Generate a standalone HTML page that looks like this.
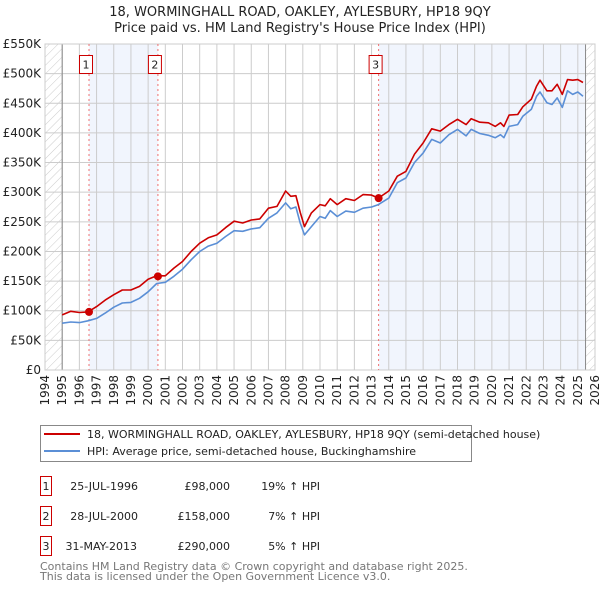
<!DOCTYPE html>
<html><head><meta charset="utf-8"><style>
body{margin:0;background:#fff;font-family:"DejaVu Sans","Liberation Sans",sans-serif;}
svg text{font-family:"DejaVu Sans","Liberation Sans",sans-serif;}
</style></head><body>
<svg id="c" width="600" height="590" viewBox="0 0 600 590" xmlns="http://www.w3.org/2000/svg">
<defs><pattern id="hatch" width="6" height="6" patternUnits="userSpaceOnUse" patternTransform="rotate(45)"><line x1="0" y1="0" x2="0" y2="6" stroke="#ccc" stroke-width="1"/></pattern></defs>
<text x="300" y="16" text-anchor="middle" font-size="13" fill="#222">18, WORMINGHALL ROAD, OAKLEY, AYLESBURY, HP18 9QY</text>
<text x="300" y="32" text-anchor="middle" font-size="13" fill="#222">Price paid vs. HM Land Registry's House Price Index (HPI)</text>
<g id="plot"></g>
<g>
<rect x="40.5" y="425.5" width="431" height="36" fill="#fff" stroke="#888"/>
<line x1="44" y1="434" x2="80" y2="434" stroke="#cc0000" stroke-width="2"/>
<text x="87" y="438" font-size="11" fill="#222">18, WORMINGHALL ROAD, OAKLEY, AYLESBURY, HP18 9QY (semi-detached house)</text>
<line x1="44" y1="451" x2="80" y2="451" stroke="#5b8fd6" stroke-width="2"/>
<text x="87" y="455" font-size="11" fill="#222">HPI: Average price, semi-detached house, Buckinghamshire</text>
</g>
<g font-size="11" fill="#222">
<rect x="40.5" y="476.5" width="11" height="19" fill="#fff" stroke="#cc0000"/><text x="46" y="490" text-anchor="middle">1</text>
<text x="138" y="490" text-anchor="end">25-JUL-1996</text><text x="230" y="490" text-anchor="end">£98,000</text><text x="320" y="490" text-anchor="end">19% ↑ HPI</text>
<rect x="40.5" y="506.5" width="11" height="19" fill="#fff" stroke="#cc0000"/><text x="46" y="520" text-anchor="middle">2</text>
<text x="138" y="520" text-anchor="end">28-JUL-2000</text><text x="230" y="520" text-anchor="end">£158,000</text><text x="320" y="520" text-anchor="end">7% ↑ HPI</text>
<rect x="40.5" y="536.5" width="11" height="19" fill="#fff" stroke="#cc0000"/><text x="46" y="550" text-anchor="middle">3</text>
<text x="137" y="550" text-anchor="end">31-MAY-2013</text><text x="230" y="550" text-anchor="end">£290,000</text><text x="320" y="550" text-anchor="end">5% ↑ HPI</text>
</g>
<text x="40" y="570" font-size="11" fill="#777">Contains HM Land Registry data © Crown copyright and database right 2025.</text>
<text x="40" y="580" font-size="11" fill="#777">This data is licensed under the Open Government Licence v3.0.</text>
</svg>
<script>
const dates=[1995,1995.5,1996,1996.5,1997,1997.5,1998,1998.5,1999,1999.5,2000,2000.5,2001,2001.5,2002,2002.5,2003,2003.5,2004,2004.5,2005,2005.5,2006,2006.5,2007,2007.5,2008,2008.3,2008.6,2008.85,2009.1,2009.5,2010,2010.3,2010.6,2011,2011.5,2012,2012.5,2013,2013.4,2014,2014.5,2015,2015.5,2016,2016.5,2017,2017.5,2018,2018.5,2018.8,2019.3,2019.8,2020.2,2020.5,2020.7,2021,2021.5,2021.8,2022.3,2022.6,2022.8,2023.2,2023.5,2023.8,2024.1,2024.4,2024.7,2025,2025.3];
const hpiValues=[79,81,80,83,87,96,106,113,114,121,132,146,148,158,170,186,200,209,214,225,235,234,238,240,256,265,282,272,275,248,228,242,259,256,269,259,268,266,273,275,279,290,316,324,350,366,389,383,397,406,395,406,399,396,392,397,392,411,414,428,440,462,469,451,448,459,443,471,465,469,462];
const propertyValues=[93,99,97,98,107,118,127,135,135,141,153,159,159,172,183,200,214,223,228,240,251,248,253,255,273,276,302,293,294,266,242,265,279,277,289,279,289,286,296,295,290,302,327,335,364,383,407,403,414,423,414,424,418,417,411,417,411,430,431,444,457,479,489,471,471,482,465,490,489,490,485];
const yTicks=[0,50,100,150,200,250,300,350,400,450,500,550];
const yTickLabels=["£0","£50K","£100K","£150K","£200K","£250K","£300K","£350K","£400K","£450K","£500K","£550K"];
const xYears=[1994,1995,1996,1997,1998,1999,2000,2001,2002,2003,2004,2005,2006,2007,2008,2009,2010,2011,2012,2013,2014,2015,2016,2017,2018,2019,2020,2021,2022,2023,2024,2025,2026];
const saleLabels=["1","2","3"];
const saleDates=[1996.56,2000.57,2013.41];
const salePrices=[98,158,290];
const dataStart=1995, dataEnd=2025.45;

const NS="http://www.w3.org/2000/svg";
const L=45,R=595,T=44,B=370;
const X=y=>L+(y-1994)*(R-L)/32;
const Y=v=>B-v*(B-T)/550;
const g=document.getElementById('plot');
function mk(tag,at,parent){const e=document.createElementNS(NS,tag);for(const k in at)e.setAttribute(k,at[k]);(parent||g).appendChild(e);return e;}
let e;
e=mk('rect',{x:L,y:T,width:X(dataStart)-L,height:B-T,fill:'url(#hatch)'});


e=mk('rect',{x:X(dataEnd),y:T,width:R-X(dataEnd),height:B-T,fill:'url(#hatch)'});


e=mk('rect',{x:X(saleDates[0]),y:T,width:X(saleDates[1])-X(saleDates[0]),height:B-T,fill:'#eef3fc',opacity:0.8});


e=mk('rect',{x:X(saleDates[2]),y:T,width:X(dataEnd)-X(saleDates[2]),height:B-T,fill:'#eef3fc',opacity:0.8});


yTicks.forEach((v,i)=>{
 e=mk('line',{x1:L,x2:R,y1:Y(v),y2:Y(v),stroke:'#ccc','stroke-width':1});
 
 
 e=mk('text',{x:L-4,y:Y(v)+4,'text-anchor':'end','font-size':12,fill:'#222'});e.textContent=yTickLabels[i];
 
 
});
xYears.forEach(yr=>{
 e=mk('line',{x1:X(yr),x2:X(yr),y1:T,y2:B,stroke:'#ccc','stroke-width':1});
 
 
 e=mk('text',{x:0,y:0,transform:`translate(${X(yr)+4},${B+5}) rotate(-90)`,'text-anchor':'end','font-size':12,fill:'#222'});e.textContent=yr;
 
 
});
mk('line',{x1:X(dataStart),x2:X(dataStart),y1:T,y2:B,stroke:'#888'});
mk('line',{x1:X(dataEnd),x2:X(dataEnd),y1:T,y2:B,stroke:'#888'});
mk('rect',{x:L,y:T,width:R-L,height:B-T,fill:'none',stroke:'#ccc'});
saleDates.forEach((d,i)=>{
 e=mk('line',{x1:X(d),x2:X(d),y1:T,y2:B,stroke:'#f07070','stroke-dasharray':'2,3'});
 
 
 e=mk('rect',{x:X(d)-9.5,y:55.5,width:13,height:18,fill:'#fff',stroke:'#cc0000'});
 
 
 e=mk('text',{x:X(d)-3,y:68.5,'text-anchor':'middle','font-size':11,fill:'#222'});e.textContent=saleLabels[i];
 
 
});
function path(vals,col,name){
 const d=vals.map((v,i)=>(i?'L':'M')+X(dates[i]).toFixed(1)+','+Y(v).toFixed(1)).join('');
 e=mk('path',{d:d,fill:'none',stroke:col,'stroke-width':1.6,'stroke-linejoin':'round'});
 
 
}
path(hpiValues,'#5b8fd6','hpi-line');
path(propertyValues,'#cc0000','property-line');
saleDates.forEach((d,i)=>{
 e=mk('circle',{cx:X(d),cy:Y(salePrices[i]),r:4,fill:'#cc0000'});
 
 
});
</script>
</body></html>
